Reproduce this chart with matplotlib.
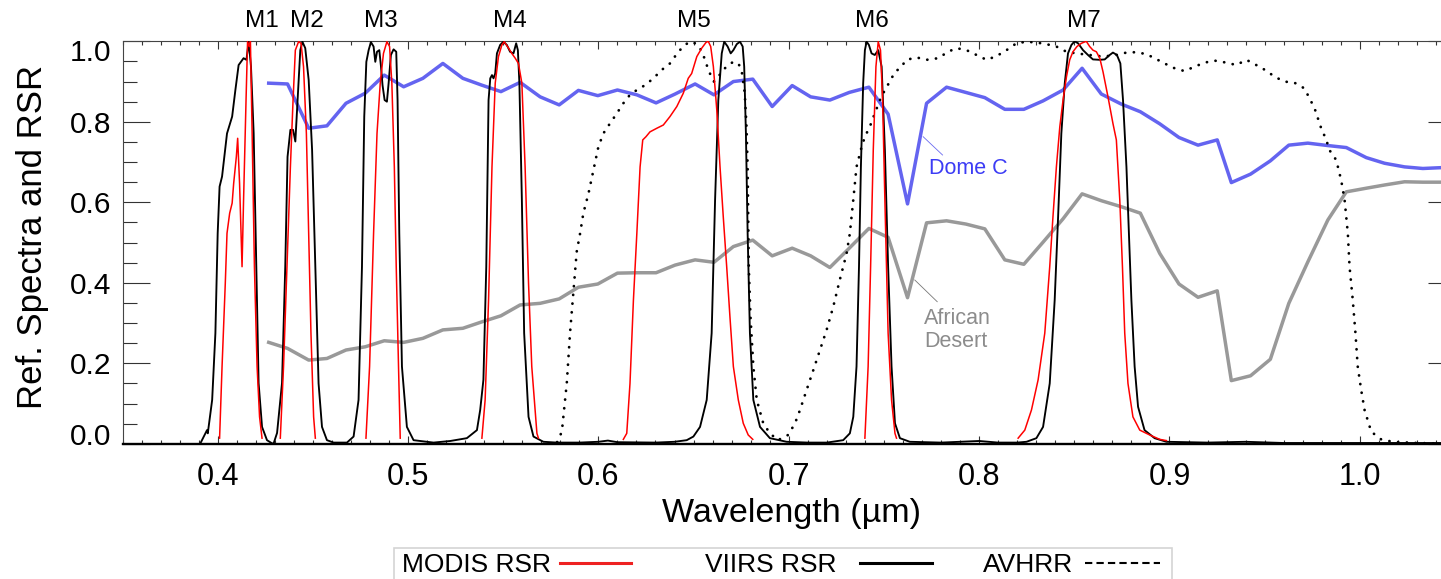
import matplotlib
matplotlib.use("Agg")
import matplotlib.pyplot as plt
from matplotlib.transforms import blended_transform_factory, offset_copy
from matplotlib.lines import Line2D
from matplotlib.patches import Rectangle
from matplotlib.ticker import MultipleLocator

plt.rcParams['font.family'] = ['Liberation Sans', 'DejaVu Sans']

# ---------------- data ----------------
site_wl = [0.4268, 0.4367, 0.4478, 0.4574, 0.4674, 0.4775, 0.4875, 0.4977, 0.5078, 0.5183,
           0.5288, 0.5388, 0.5488, 0.5589, 0.5694, 0.5794, 0.5895, 0.5997, 0.6100, 0.6202,
           0.6303, 0.6403, 0.6508, 0.6607, 0.6709, 0.6811, 0.6913, 0.7018, 0.7115, 0.7216,
           0.7318, 0.7421, 0.7522, 0.7624, 0.7724, 0.7829, 0.7930, 0.8030, 0.8135, 0.8235,
           0.8336, 0.8441, 0.8541, 0.8642, 0.8747, 0.8847, 0.8949, 0.9050, 0.9150, 0.9251,
           0.9325, 0.9426, 0.9530, 0.9627, 0.9727, 0.9832, 0.9929, 1.0034, 1.0130, 1.0235,
           1.0331, 1.0424]
dome_c = [0.896, 0.894, 0.784, 0.790, 0.846, 0.871, 0.916, 0.887, 0.908, 0.945,
          0.908, 0.891, 0.875, 0.898, 0.862, 0.842, 0.878, 0.865, 0.879, 0.867,
          0.847, 0.869, 0.894, 0.867, 0.900, 0.906, 0.838, 0.890, 0.862, 0.854,
          0.873, 0.886, 0.819, 0.596, 0.846, 0.886, 0.873, 0.860, 0.831, 0.831,
          0.852, 0.879, 0.933, 0.869, 0.844, 0.825, 0.795, 0.761, 0.742, 0.755,
          0.649, 0.670, 0.703, 0.742, 0.747, 0.741, 0.736, 0.711, 0.697, 0.688,
          0.684, 0.686]
african_desert = [0.252, 0.237, 0.208, 0.212, 0.233, 0.241, 0.256, 0.252, 0.262, 0.283,
                  0.287, 0.303, 0.318, 0.345, 0.349, 0.360, 0.389, 0.397, 0.424, 0.425,
                  0.425, 0.444, 0.457, 0.451, 0.490, 0.506, 0.467, 0.486, 0.467, 0.438,
                  0.486, 0.535, 0.513, 0.363, 0.549, 0.554, 0.546, 0.534, 0.457, 0.446,
                  0.501, 0.559, 0.621, 0.604, 0.589, 0.573, 0.473, 0.397, 0.364, 0.380,
                  0.157, 0.169, 0.210, 0.349, 0.452, 0.556, 0.626, 0.635, 0.643, 0.651,
                  0.650, 0.650]

viirs_wl = [0.3909, 0.3944, 0.3948, 0.3971, 0.3988, 0.4000, 0.4010, 0.4023, 0.4049, 0.4076,
            0.4093, 0.4110, 0.4136, 0.4151, 0.4163, 0.4175, 0.4189, 0.4203, 0.4215, 0.4233,
            0.4259, 0.4286, 0.4294, 0.4312, 0.4338, 0.4355, 0.4367, 0.4382, 0.4396, 0.4408,
            0.4420, 0.4434, 0.4445, 0.4460, 0.4478, 0.4496, 0.4513, 0.4530, 0.4548, 0.4574,
            0.4609, 0.4679, 0.4714, 0.4740, 0.4758, 0.4770, 0.4781, 0.4793, 0.4805, 0.4819,
            0.4828, 0.4837, 0.4849, 0.4858, 0.4866, 0.4877, 0.4889, 0.4898, 0.4910, 0.4924,
            0.4938, 0.4945, 0.4954, 0.4968, 0.4994, 0.5029, 0.5134, 0.5222, 0.5309, 0.5362,
            0.5379, 0.5396, 0.5411, 0.5423, 0.5432, 0.5441, 0.5449, 0.5458, 0.5467, 0.5484,
            0.5501, 0.5519, 0.5536, 0.5554, 0.5568, 0.5577, 0.5585, 0.5598, 0.5610, 0.5633,
            0.5659, 0.5711, 0.5782, 0.5900, 0.6000, 0.6050, 0.6100, 0.6300, 0.6400, 0.6464,
            0.6499, 0.6534, 0.6569, 0.6595, 0.6613, 0.6630, 0.6648, 0.6661, 0.6679, 0.6695,
            0.6709, 0.6727, 0.6744, 0.6758, 0.6766, 0.6775, 0.6784, 0.6796, 0.6814, 0.6849,
            0.6901, 0.6989, 0.7100, 0.7200, 0.7286, 0.7321, 0.7339, 0.7356, 0.7369, 0.7379,
            0.7391, 0.7400, 0.7409, 0.7421, 0.7435, 0.7452, 0.7470, 0.7488, 0.7505, 0.7522,
            0.7540, 0.7558, 0.7584, 0.7636, 0.7800, 0.8000, 0.8100, 0.8200, 0.8249, 0.8301,
            0.8336, 0.8371, 0.8397, 0.8415, 0.8432, 0.8450, 0.8467, 0.8485, 0.8502, 0.8520,
            0.8546, 0.8572, 0.8598, 0.8634, 0.8660, 0.8686, 0.8703, 0.8724, 0.8742, 0.8756,
            0.8774, 0.8787, 0.8800, 0.8817, 0.8835, 0.8869, 0.8922, 0.8984, 0.9200, 0.9400,
            0.9600, 1.0000, 1.0500]
viirs_rsr = [0.001, 0.034, 0.026, 0.109, 0.275, 0.523, 0.639, 0.664, 0.771, 0.813,
             0.879, 0.941, 0.958, 0.954, 0.999, 0.937, 0.772, 0.440, 0.151, 0.042,
             0.009, 0.001, 0.001, 0.027, 0.151, 0.440, 0.713, 0.780, 0.780, 0.751,
             0.854, 0.978, 0.999, 0.983, 0.904, 0.730, 0.440, 0.150, 0.042, 0.009,
             0.003, 0.003, 0.018, 0.109, 0.440, 0.813, 0.949, 0.978, 0.998, 0.987,
             0.949, 0.974, 0.978, 0.937, 0.891, 0.854, 0.850, 0.896, 0.966, 0.980,
             0.974, 0.854, 0.523, 0.192, 0.042, 0.009, 0.003, 0.007, 0.014, 0.034,
             0.084, 0.159, 0.440, 0.854, 0.908, 0.916, 0.908, 0.920, 0.970, 0.991,
             0.999, 0.991, 0.974, 0.970, 0.995, 0.978, 0.896, 0.606, 0.275, 0.067,
             0.018, 0.005, 0.003, 0.003, 0.005, 0.008, 0.004, 0.003, 0.005, 0.009,
             0.018, 0.042, 0.109, 0.275, 0.606, 0.854, 0.970, 0.999, 0.987, 0.970,
             0.978, 0.993, 0.999, 0.987, 0.937, 0.771, 0.523, 0.275, 0.109, 0.042,
             0.014, 0.005, 0.003, 0.003, 0.009, 0.026, 0.067, 0.192, 0.440, 0.688,
             0.896, 0.978, 0.999, 0.991, 0.970, 0.966, 0.978, 0.937, 0.730, 0.440,
             0.192, 0.051, 0.014, 0.005, 0.003, 0.007, 0.003, 0.003, 0.005, 0.014,
             0.042, 0.150, 0.357, 0.564, 0.771, 0.896, 0.970, 0.991, 1.000, 0.995,
             0.978, 0.966, 0.955, 0.954, 0.955, 0.966, 0.972, 0.966, 0.945, 0.854,
             0.688, 0.523, 0.357, 0.192, 0.092, 0.034, 0.014, 0.005, 0.003, 0.005,
             0.002, 0.002, 0.002]

modis_b8_wl = [0.4010, 0.4023, 0.4040, 0.4049, 0.4063, 0.4076, 0.4084, 0.4098, 0.4105, 0.4115,
               0.4128, 0.4136, 0.4149, 0.4157, 0.4166, 0.4172, 0.4181, 0.4193, 0.4207, 0.4220, 0.4233]
modis_b8_rsr = [0.014, 0.192, 0.399, 0.523, 0.573, 0.598, 0.647, 0.713, 0.759, 0.647,
                0.440, 0.606, 0.854, 0.999, 0.987, 0.999, 0.771, 0.440, 0.192, 0.067, 0.014]
modis_b9_wl = [0.4329, 0.4346, 0.4364, 0.4382, 0.4396, 0.4408, 0.4425, 0.4438, 0.4451, 0.4466,
               0.4478, 0.4490, 0.4504, 0.4513]
modis_b9_rsr = [0.014, 0.192, 0.440, 0.688, 0.854, 0.978, 0.999, 0.995, 0.937, 0.771,
                0.523, 0.275, 0.067, 0.014]
modis_b10_wl = [0.4779, 0.4798, 0.4819, 0.4837, 0.4854, 0.4871, 0.4889, 0.4903, 0.4915, 0.4928,
                0.4938, 0.4950, 0.4959]
modis_b10_rsr = [0.014, 0.192, 0.523, 0.771, 0.896, 0.970, 0.999, 0.987, 0.896, 0.688,
                 0.440, 0.192, 0.014]
modis_b4_wl = [0.5388, 0.5405, 0.5423, 0.5441, 0.5458, 0.5475, 0.5493, 0.5505, 0.5528, 0.5545,
               0.5563, 0.5580, 0.5598, 0.5615, 0.5633, 0.5650, 0.5677, 0.5685]
modis_b4_rsr = [0.014, 0.109, 0.357, 0.688, 0.896, 0.962, 0.991, 0.999, 0.983, 0.970,
                0.958, 0.945, 0.896, 0.688, 0.399, 0.192, 0.026, 0.014]
modis_b1_wl = [0.6131, 0.6149, 0.6166, 0.6184, 0.6202, 0.6219, 0.6233, 0.6250, 0.6271, 0.6307,
               0.6341, 0.6376, 0.6412, 0.6446, 0.6472, 0.6490, 0.6517, 0.6543, 0.6565, 0.6577,
               0.6590, 0.6604, 0.6622, 0.6639, 0.6656, 0.6674, 0.6691, 0.6709, 0.6735, 0.6761,
               0.6787, 0.6811]
modis_b1_rsr = [0.011, 0.026, 0.150, 0.357, 0.523, 0.688, 0.755, 0.763, 0.775, 0.784,
                0.792, 0.813, 0.838, 0.871, 0.908, 0.920, 0.962, 0.983, 0.997, 1.000,
                0.987, 0.937, 0.829, 0.688, 0.564, 0.440, 0.316, 0.192, 0.109, 0.051,
                0.022, 0.011]
modis_b15_wl = [0.7400, 0.7417, 0.7430, 0.7444, 0.7458, 0.7470, 0.7482, 0.7493, 0.7505, 0.7522,
                0.7540, 0.7558, 0.7566]
modis_b15_rsr = [0.014, 0.192, 0.440, 0.730, 0.937, 0.999, 0.978, 0.854, 0.606, 0.275,
                 0.109, 0.026, 0.014]
modis_b2_wl = [0.8205, 0.8240, 0.8275, 0.8310, 0.8345, 0.8371, 0.8388, 0.8406, 0.8424, 0.8441,
               0.8459, 0.8476, 0.8493, 0.8514, 0.8537, 0.8563, 0.8581, 0.8598, 0.8616, 0.8634,
               0.8651, 0.8677, 0.8703, 0.8721, 0.8739, 0.8753, 0.8765, 0.8782, 0.8808, 0.8844,
               0.8896, 0.8949, 0.8984]
modis_b2_rsr = [0.014, 0.034, 0.084, 0.159, 0.275, 0.440, 0.564, 0.688, 0.788, 0.854,
                0.912, 0.954, 0.974, 0.987, 0.995, 1.000, 0.987, 0.978, 0.974, 0.958,
                0.924, 0.862, 0.796, 0.755, 0.606, 0.440, 0.275, 0.150, 0.067, 0.034,
                0.022, 0.011, 0.008]

avhrr_wl = [0.5783, 0.5808, 0.5834, 0.5851, 0.5869, 0.5886, 0.5904, 0.5921, 0.5948, 0.5974,
            0.6000, 0.6026, 0.6061, 0.6097, 0.6131, 0.6166, 0.6202, 0.6245, 0.6289, 0.6333,
            0.6376, 0.6420, 0.6455, 0.6481, 0.6508, 0.6530, 0.6551, 0.6569, 0.6586, 0.6607,
            0.6630, 0.6656, 0.6682, 0.6709, 0.6735, 0.6752, 0.6769, 0.6778, 0.6784, 0.6787,
            0.6790, 0.6799, 0.6814, 0.6832, 0.6866, 0.6901, 0.6943, 0.6997, 0.7033, 0.7059,
            0.7094, 0.7129, 0.7164, 0.7199, 0.7234, 0.7268, 0.7304, 0.7321, 0.7339, 0.7356,
            0.7383, 0.7400, 0.7426, 0.7452, 0.7479, 0.7505, 0.7531, 0.7558, 0.7584, 0.7619,
            0.7671, 0.7724, 0.7785, 0.7837, 0.7881, 0.7934, 0.7986, 0.8039, 0.8091, 0.8144,
            0.8196, 0.8249, 0.8301, 0.8353, 0.8406, 0.8459, 0.8511, 0.8581, 0.8651, 0.8721,
            0.8774, 0.8826, 0.8879, 0.8922, 0.8974, 0.9027, 0.9079, 0.9132, 0.9185, 0.9237,
            0.9299, 0.9351, 0.9404, 0.9456, 0.9509, 0.9552, 0.9604, 0.9657, 0.9709, 0.9762,
            0.9797, 0.9824, 0.9840, 0.9876, 0.9902, 0.9920, 0.9937, 0.9946, 0.9963, 0.9977,
            0.9989, 1.0007, 1.0025, 1.0060, 1.0112, 1.0173, 1.0300, 1.0500]
avhrr_rsr = [0.004, 0.030, 0.151, 0.275, 0.378, 0.477, 0.523, 0.573, 0.622, 0.680,
             0.738, 0.771, 0.796, 0.821, 0.846, 0.867, 0.879, 0.891, 0.908, 0.929,
             0.945, 0.974, 0.991, 0.999, 0.995, 0.987, 0.966, 0.941, 0.920, 0.900,
             0.912, 0.929, 0.941, 0.949, 0.945, 0.929, 0.871, 0.788, 0.688, 0.564,
             0.440, 0.316, 0.192, 0.109, 0.051, 0.026, 0.009, 0.022, 0.051, 0.084,
             0.134, 0.183, 0.233, 0.283, 0.341, 0.407, 0.473, 0.523, 0.606, 0.688,
             0.738, 0.763, 0.788, 0.821, 0.854, 0.879, 0.900, 0.924, 0.933, 0.954,
             0.960, 0.954, 0.958, 0.974, 0.983, 0.978, 0.966, 0.954, 0.963, 0.978,
             0.995, 0.999, 0.997, 0.993, 0.987, 0.974, 0.970, 0.966, 0.962, 0.966,
             0.972, 0.973, 0.968, 0.958, 0.945, 0.933, 0.926, 0.937, 0.947, 0.952,
             0.947, 0.941, 0.954, 0.941, 0.927, 0.912, 0.900, 0.897, 0.883, 0.834,
             0.784, 0.755, 0.730, 0.705, 0.655, 0.606, 0.523, 0.440, 0.357, 0.275,
             0.192, 0.134, 0.084, 0.030, 0.011, 0.005, 0.002, 0.000]

band_names = ['M1', 'M2', 'M3', 'M4', 'M5', 'M6', 'M7']
band_label_wl = [0.4231, 0.4466, 0.4858, 0.5537, 0.6499, 0.7435, 0.8551]

xtick_values = [0.4, 0.5, 0.6, 0.7, 0.8, 0.9, 1.0]
xtick_labels = ['0.4', '0.5', '0.6', '0.7', '0.8', '0.9', '1.0']
ytick_values = [0.0, 0.2, 0.4, 0.6, 0.8, 1.0]
ytick_labels = ['0.0', '0.2', '0.4', '0.6', '0.8', '1.0']
legend_names = ['MODIS RSR', 'VIIRS RSR', 'AVHRR']

# ---------------- figure ----------------
W, H = 1441, 579
fig = plt.figure(figsize=(W / 100, H / 100), dpi=100)
fig.patch.set_facecolor('white')
ax = fig.add_axes([122.5 / W, 135.2 / H, 1332.5 / W, 402.5 / H])

MODIS_C = '#FF0000'
DOME_C = '#6464F0'
DESERT_C = '#999999'

ax.plot(site_wl, african_desert, color=DESERT_C, lw=2.5, zorder=2)
ax.plot(site_wl, dome_c, color=DOME_C, lw=2.5, zorder=2)
ax.plot(avhrr_wl, avhrr_rsr, color='black', lw=2.0, linestyle=(0, (0.05, 3.1)),
        dash_capstyle='round', zorder=3)
ax.plot(viirs_wl, viirs_rsr, color='black', lw=1.35, zorder=4)
modis_bands = [(modis_b8_wl, modis_b8_rsr), (modis_b9_wl, modis_b9_rsr),
               (modis_b10_wl, modis_b10_rsr), (modis_b4_wl, modis_b4_rsr),
               (modis_b1_wl, modis_b1_rsr), (modis_b15_wl, modis_b15_rsr),
               (modis_b2_wl, modis_b2_rsr)]
for wl, rsr in modis_bands:
    ax.plot(wl, rsr, color=MODIS_C, lw=1.1, zorder=5)

ax.set_xlim(0.35, 1.05)
ax.set_ylim(0.0, 1.0)

# ticks
ax.set_xticks(xtick_values)
ax.set_xticklabels(xtick_labels)
ax.xaxis.set_minor_locator(MultipleLocator(0.01))
ax.tick_params(axis='x', which='major', direction='in', length=5.8, width=0.8,
               top=True, bottom=True, labelsize=22, pad=13, color='#333333')
ax.tick_params(axis='x', which='minor', direction='in', length=2.9, width=0.8,
               top=True, bottom=True, color='#333333')
ax.set_yticks(ytick_values)
ax.yaxis.set_minor_locator(MultipleLocator(0.05))
ax.tick_params(axis='y', which='major', direction='in', length=19.4, width=0.8,
               left=True, right=True, labelleft=False, color='#333333')
ax.tick_params(axis='y', which='minor', direction='in', length=10.1, width=0.8,
               left=True, right=True, color='#333333')

ybase = blended_transform_factory(ax.transAxes, ax.transData)
for v, lab in zip(ytick_values, ytick_labels):
    dy = 0
    if v == max(ytick_values):
        dy = -9
    elif v == min(ytick_values):
        dy = 10
    tr = offset_copy(ybase, fig=fig, x=-11.3, y=dy, units='dots')
    ax.text(0, v, lab, transform=tr, ha='right', va='center_baseline',
            fontsize=21.5, clip_on=False)

for s in ['top', 'left', 'right']:
    ax.spines[s].set_linewidth(0.8)
    ax.spines[s].set_color('#444444')
ax.spines['bottom'].set_linewidth(1.7)
ax.spines['bottom'].set_color('black')

ax.set_xlabel('Wavelength (µm)', fontsize=24.5, va='baseline')
ax.xaxis.set_label_coords(0.502, -0.1953)
ax.set_ylabel('Ref. Spectra and RSR', fontsize=25, va='baseline')
ax.yaxis.set_label_coords(-0.0606, 0.515)

# band labels
for name, wl in zip(band_names, band_label_wl):
    ax.text(wl, 1.0348, name, ha='center', va='baseline', fontsize=17.5, clip_on=False)

# site annotations
ax.plot([0.7706, 0.7808], [0.763, 0.7175], color='#6a6af0', lw=0.6, zorder=6)
ax.text(0.7738, 0.6703, 'Dome C', color='#3C3CF5', fontsize=15.5, ha='left', va='baseline', zorder=6)
ax.plot([0.7662, 0.7780], [0.407, 0.353], color='#777777', lw=0.6, zorder=6)
ax.text(0.7711, 0.3366, 'African\nDesert', color='#8C8C8C', fontsize=15.5, ha='left', va='top',
        linespacing=1.08, zorder=6)

# legend (manual, bottom box partly cut off)
fig.patches.append(Rectangle((394 / W, -0.05), (1172 - 394) / W, 0.05 + 1 - 547.7 / H,
                             transform=fig.transFigure, fill=False,
                             edgecolor='#d4d4d4', lw=1.2))
leg_styles = [dict(color='#EE2222', lw=2.2),
              dict(color='black', lw=2.2),
              dict(color='black', lw=1.5, linestyle=(0, (3.5, 2.0)))]
leg_text_x = [401.7, 705, 983]
leg_line_x = [(560, 631), (860, 932), (1085, 1160)]
for name, tx, (lx0, lx1), st in zip(legend_names, leg_text_x, leg_line_x, leg_styles):
    fig.text(tx / W, 1 - 572.3 / H, name, fontsize=19, ha='left', va='baseline')
    fig.lines.append(Line2D([lx0 / W, lx1 / W], [1 - 563.3 / H] * 2,
                            transform=fig.transFigure, **st))

fig.savefig('out.png', dpi=100)
